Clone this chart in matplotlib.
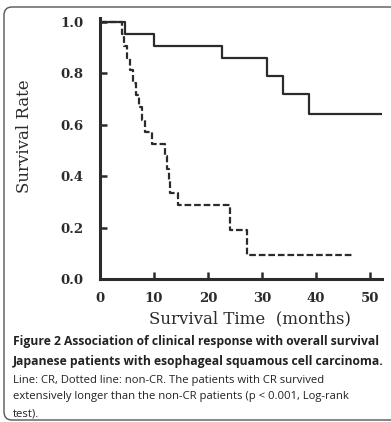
import matplotlib.pyplot as plt
from matplotlib.patches import FancyBboxPatch

# Kaplan-Meier step data (time in months, survival rate)
cr_time = [0, 4.7, 10.0, 22.5, 31.0, 33.8, 38.6, 52.3]
cr_surv = [1.0, 0.952, 0.905, 0.857, 0.79, 0.72, 0.64, 0.64]

noncr_time = [0, 4.0, 4.5, 5.0, 5.6, 6.1, 6.6, 7.2, 7.7, 8.3, 9.7,
              12.1, 12.4, 12.7, 13.0, 14.4, 24.0, 27.3, 47.0]
noncr_surv = [1.0, 0.952, 0.905, 0.857, 0.810, 0.762, 0.714, 0.667, 0.619, 0.571, 0.524,
              0.476, 0.429, 0.381, 0.333, 0.286, 0.19, 0.095, 0.095]

x_ticks = [0, 10, 20, 30, 40, 50]
y_ticks = [0.0, 0.2, 0.4, 0.6, 0.8, 1.0]

caption_bold = ['Figure 2 Association of clinical response with overall survival',
                'Japanese patients with esophageal squamous cell carcinoma.']
caption_text = ['Line: CR, Dotted line: non-CR. The patients with CR survived',
                'extensively longer than the non-CR patients (p < 0.001, Log-rank',
                'test).']

W, H = 391, 422
fig = plt.figure(figsize=(W / 100, H / 100), dpi=100)
ax = fig.add_axes([100 / W, (H - 279) / H, 282 / W, 261 / H])

ink = '#2b2b2b'
ax.step(cr_time, cr_surv, where='post', color=ink, lw=1.6)
ax.step(noncr_time, noncr_surv, where='post', color=ink, lw=1.6, dashes=(3, 1.3))

ax.set_xlim(0, 52.2)
ax.set_ylim(0, 1.0136)
ax.set_xticks(x_ticks)
ax.set_yticks(y_ticks)
ax.set_xticklabels([str(t) for t in x_ticks])
ax.set_yticklabels([f'{t:.1f}' for t in y_ticks])
for s in ['top', 'right']:
    ax.spines[s].set_visible(False)
for s in ['left', 'bottom']:
    ax.spines[s].set_linewidth(2.2)
    ax.spines[s].set_color(ink)
ax.tick_params(direction='in', length=5, width=1.8, color=ink, labelsize=9.5, labelcolor=ink)
ax.tick_params(axis='y', pad=12)
ax.tick_params(axis='x', pad=9)
for lab in ax.get_xticklabels() + ax.get_yticklabels():
    lab.set_family('DejaVu Serif')
    lab.set_weight('bold')

fig.text(25 / W, 1 - 136 / H, 'Survival Rate', rotation=90, ha='center', va='center',
         family='DejaVu Serif', fontsize=12, color=ink)
fig.text(250 / W, 1 - 319 / H, 'Survival Time  (months)', ha='center', va='center',
         family='DejaVu Serif', fontsize=12, color=ink)

ys = [342, 362, 380, 397, 414]
for i, line in enumerate(caption_bold):
    fig.text(13 / W, 1 - ys[i] / H, line, ha='left', va='center',
             family='Open Sans', fontweight='bold', fontsize=8.75, color='#222222')
for i, line in enumerate(caption_text):
    fig.text(13 / W, 1 - ys[i + 2] / H, line, ha='left', va='center',
             family='Open Sans', fontsize=8.1, color='#222222')

box = FancyBboxPatch((4 / W, 2 / H), 400 / W, 413 / H, transform=fig.transFigure,
                     boxstyle='round,pad=0,rounding_size=0.02', fill=False,
                     edgecolor='#555555', lw=1.0)
fig.patches.append(box)

fig.savefig('out.png', dpi=100)
